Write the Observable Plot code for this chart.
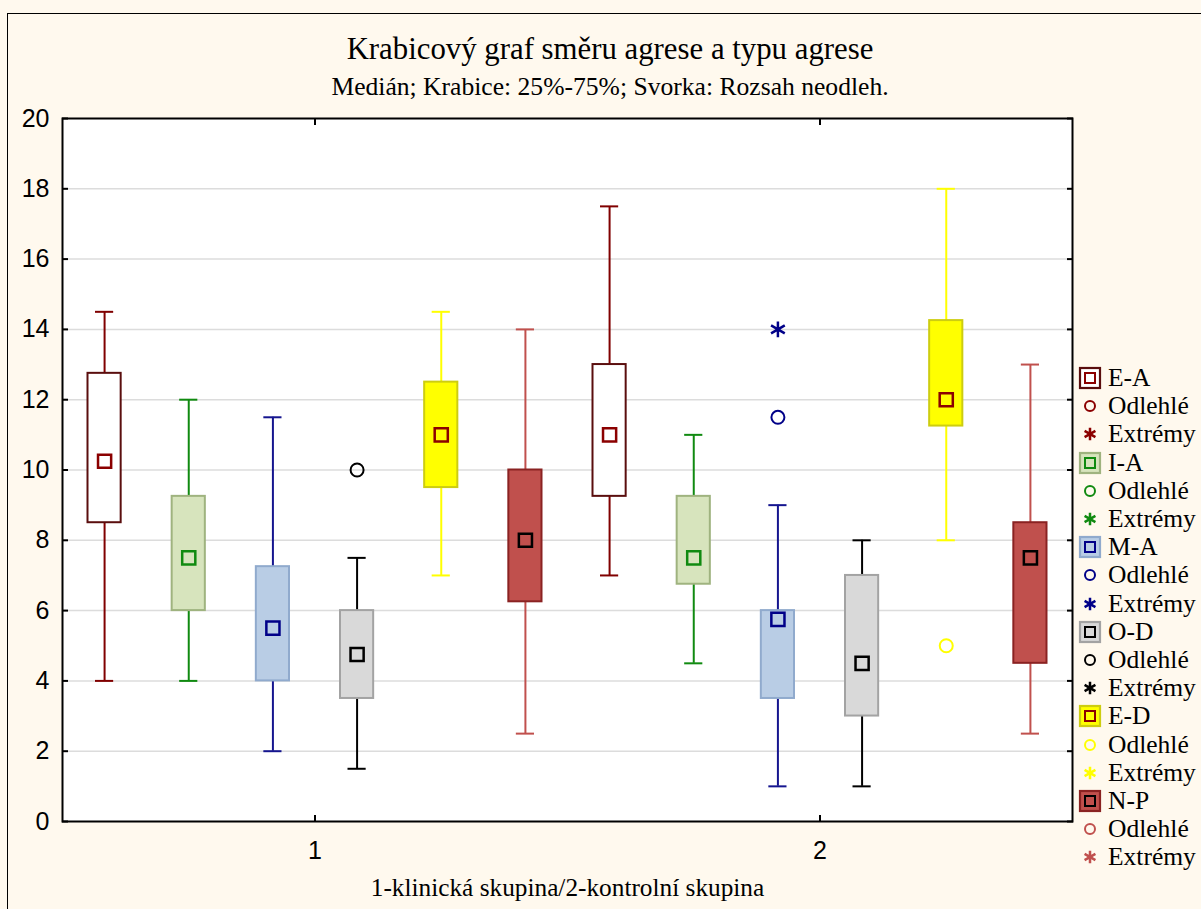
<!DOCTYPE html>
<html>
<head>
<meta charset="utf-8">
<script src="https://cdn.jsdelivr.net/npm/d3@7"></script>
<script src="https://cdn.jsdelivr.net/npm/@observablehq/plot@0.6"></script>
<style>
  html, body { margin: 0; padding: 0; background: #FFF9EE; }
  #wrap { position: relative; width: 1201px; height: 909px; overflow: hidden; background: #FFF9EE; }
  #border { position: absolute; left: 7px; top: 13px; width: 1300px; height: 1000px; border: 1.5px solid #000; }
  .serif { font-family: "Liberation Serif", "Times New Roman", serif; color: #000; position: absolute; white-space: nowrap; }
  #title { left: 0; width: 1220px; text-align: center; top: 31px; font-size: 30.8px; line-height: 36px; }
  #subtitle { left: 0; width: 1220px; text-align: center; top: 72px; font-size: 25.6px; line-height: 30px; }
  #chart { position: absolute; left: 0; top: 0; }
  #legend { position: absolute; left: 1078px; top: 364px; }
  .row { height: 28.2px; display: flex; align-items: center; font-family: "Liberation Serif", "Times New Roman", serif; font-size: 25.5px; white-space: nowrap; }
  .row svg { width: 24px; height: 24px; margin-right: 6px; flex: none; }
</style>
</head>
<body>
<div id="wrap">
  <div id="border"></div>
  <div id="title" class="serif">Krabicový graf směru agrese a typu agrese</div>
  <div id="subtitle" class="serif">Medián; Krabice: 25%-75%; Svorka: Rozsah neodleh.</div>
  <div id="chart"></div>
  <div id="legend"></div>
</div>
<script>
// ---- data ----
const groups = [1, 2];
const xTickLabels = ["1", "2"];
const series = ["E-A", "I-A", "M-A", "O-D", "E-D", "N-P"];
// order: group 1 (E-A, I-A, M-A, O-D, E-D, N-P), then group 2
const whiskerLow  = [4,     4,    2,    1.5,  7,     2.5,  7,    4.5,  1,    1,    8,     2.5];
const q1          = [8.5,   6,    4,    3.5,  9.5,   6.25, 9.25, 6.75, 3.5,  3,    11.25, 4.5];
const medians     = [10.25, 7.5,  5.5,  4.75, 11,    8,    11,   7.5,  5.75, 4.5,  12,    7.5];
const q3          = [12.75, 9.25, 7.25, 6,    12.5,  10,   13,   9.25, 6,    7,    14.25, 8.5];
const whiskerHigh = [14.5,  12,   11.5, 7.5,  14.5,  14,   17.5, 11,   9,    8,    18,    13];
const outliers = [
  {group: 1, series: "O-D", value: 10},
  {group: 2, series: "M-A", value: 11.5},
  {group: 2, series: "E-D", value: 5}
];
const extremes = [
  {group: 2, series: "M-A", value: 14}
];
const yTicks = [0, 2, 4, 6, 8, 10, 12, 14, 16, 18, 20];
const legendOutlier = "Odlehlé";
const legendExtreme = "Extrémy";
const xLabel = "1-klinická skupina/2-kontrolní skupina";

// ---- styles ----
const styles = {
  "E-A": {line: "#800000", fill: "#FFFFFF", box: "#5A0E0E", median: "#8B0000", point: "#8B0000"},
  "I-A": {line: "#108A10", fill: "#D7E4BD", box: "#9FB37F", median: "#108A10", point: "#108A10"},
  "M-A": {line: "#15158F", fill: "#B9CDE5", box: "#90AACD", median: "#000088", point: "#000088"},
  "O-D": {line: "#000000", fill: "#D9D9D9", box: "#A3A3A3", median: "#000000", point: "#000000"},
  "E-D": {line: "#FFFF00", fill: "#FFFF00", box: "#CDCD10", median: "#8B0000", point: "#FFFF00"},
  "N-P": {line: "#C0504D", fill: "#C0504D", box: "#8A2222", median: "#000000", point: "#C0504D"}
};

// ---- table ----
const slot = 1 / series.length;
const posOf = (g, s) => g + (series.indexOf(s) - (series.length - 1) / 2) * slot;
const boxes = [];
groups.forEach((g, gi) => series.forEach((s, si) => {
  const i = gi * series.length + si;
  boxes.push({group: g, series: s, pos: posOf(g, s), lo: whiskerLow[i], q1: q1[i], med: medians[i], q3: q3[i], hi: whiskerHigh[i]});
}));
const outRows = outliers.map(d => ({...d, pos: posOf(d.group, d.series)}));
const extRows = extremes.map(d => ({...d, pos: posOf(d.group, d.series)}));

const marks = [
  Plot.frame({fill: "white", stroke: "none"}),
  Plot.gridY(yTicks.slice(1, -1), {stroke: "#DCDCDC", strokeOpacity: 1, strokeWidth: 1.5})
];
for (const s of series) {
  const st = styles[s];
  const data = boxes.filter(d => d.series === s);
  marks.push(
    Plot.ruleX(data, {x: "pos", y1: "lo", y2: "hi", stroke: st.line, strokeWidth: 2}),
    Plot.ruleY(data, {y: "lo", x1: d => d.pos - slot / 2, x2: d => d.pos + slot / 2, insetLeft: 33, insetRight: 33, stroke: st.line, strokeWidth: 2}),
    Plot.ruleY(data, {y: "hi", x1: d => d.pos - slot / 2, x2: d => d.pos + slot / 2, insetLeft: 33, insetRight: 33, stroke: st.line, strokeWidth: 2}),
    Plot.rect(data, {x1: d => d.pos - slot / 2, x2: d => d.pos + slot / 2, y1: "q1", y2: "q3", insetLeft: 25.5, insetRight: 25.5, fill: st.fill, stroke: st.box, strokeWidth: 2}),
    Plot.dot(data, {x: "pos", y: "med", symbol: "square", r: 7.4, fill: "none", stroke: st.median, strokeWidth: 2.5}),
    Plot.dot(outRows.filter(d => d.series === s), {x: "pos", y: "value", r: 6.5, fill: "none", stroke: st.point, strokeWidth: 2}),
    Plot.dot(extRows.filter(d => d.series === s), {x: "pos", y: "value", symbol: "asterisk", r: 7.5, fill: "none", stroke: st.point, strokeWidth: 2.5})
  );
}
marks.push(
  Plot.frame({stroke: "#000", strokeWidth: 2}),
  Plot.axisY(yTicks, {anchor: "left", tickSize: 0, tickPadding: 13, label: null}),
  Plot.axisY(yTicks, {anchor: "left", tickSize: -6, tickFormat: () => "", label: null, strokeWidth: 2}),
  Plot.axisY(yTicks, {anchor: "right", tickSize: -6, tickFormat: () => "", label: null, strokeWidth: 2}),
  Plot.axisX(groups, {anchor: "bottom", tickSize: 0, tickPadding: 20, tickFormat: (d, i) => xTickLabels[i], label: null}),
  Plot.axisX(groups, {anchor: "bottom", tickSize: -6, tickFormat: () => "", label: null, strokeWidth: 2}),
  Plot.axisX(groups, {anchor: "top", tickSize: -6, tickFormat: () => "", label: null, strokeWidth: 2}),
  Plot.text([xLabel], {frameAnchor: "bottom", dy: 74, text: d => d, fontFamily: "Liberation Serif, Times New Roman, serif", fontSize: 25.3, lineAnchor: "bottom", fill: "#000"})
);

const chart = Plot.plot({
  width: 1201,
  height: 909,
  marginTop: 118,
  marginLeft: 62,
  marginRight: 129,
  marginBottom: 88,
  x: {domain: [0.5, 2.5]},
  y: {domain: [0, 20]},
  style: {background: "transparent", fontFamily: "Liberation Sans, Arial, sans-serif", fontSize: "25px", color: "#000", overflow: "visible"},
  marks
});
document.getElementById("chart").appendChild(chart);

// ---- legend ----
const legend = document.getElementById("legend");
const ns = "http://www.w3.org/2000/svg";
function icon(kind, st) {
  let inner = "";
  if (kind === "box") {
    inner = `<rect x="2" y="2" width="20" height="20" fill="${st.fill}" stroke="${st.box}" stroke-width="2.2"/>` +
            `<rect x="7" y="7" width="10" height="10" fill="none" stroke="${st.median}" stroke-width="2"/>`;
  } else if (kind === "out") {
    inner = `<circle cx="12" cy="12" r="5" fill="none" stroke="${st.point}" stroke-width="2"/>`;
  } else {
    const p = d3.symbol(d3.symbolAsterisk, 110)();
    inner = `<path transform="translate(12,12)" d="${p}" fill="none" stroke="${st.point}" stroke-width="2.5"/>`;
  }
  return `<svg viewBox="0 0 24 24" xmlns="${ns}">${inner}</svg>`;
}
for (const s of series) {
  const st = styles[s];
  for (const [kind, label] of [["box", s], ["out", legendOutlier], ["ext", legendExtreme]]) {
    const row = document.createElement("div");
    row.className = "row";
    row.innerHTML = icon(kind, st) + `<span>${label}</span>`;
    legend.appendChild(row);
  }
}
</script>
</body>
</html>
